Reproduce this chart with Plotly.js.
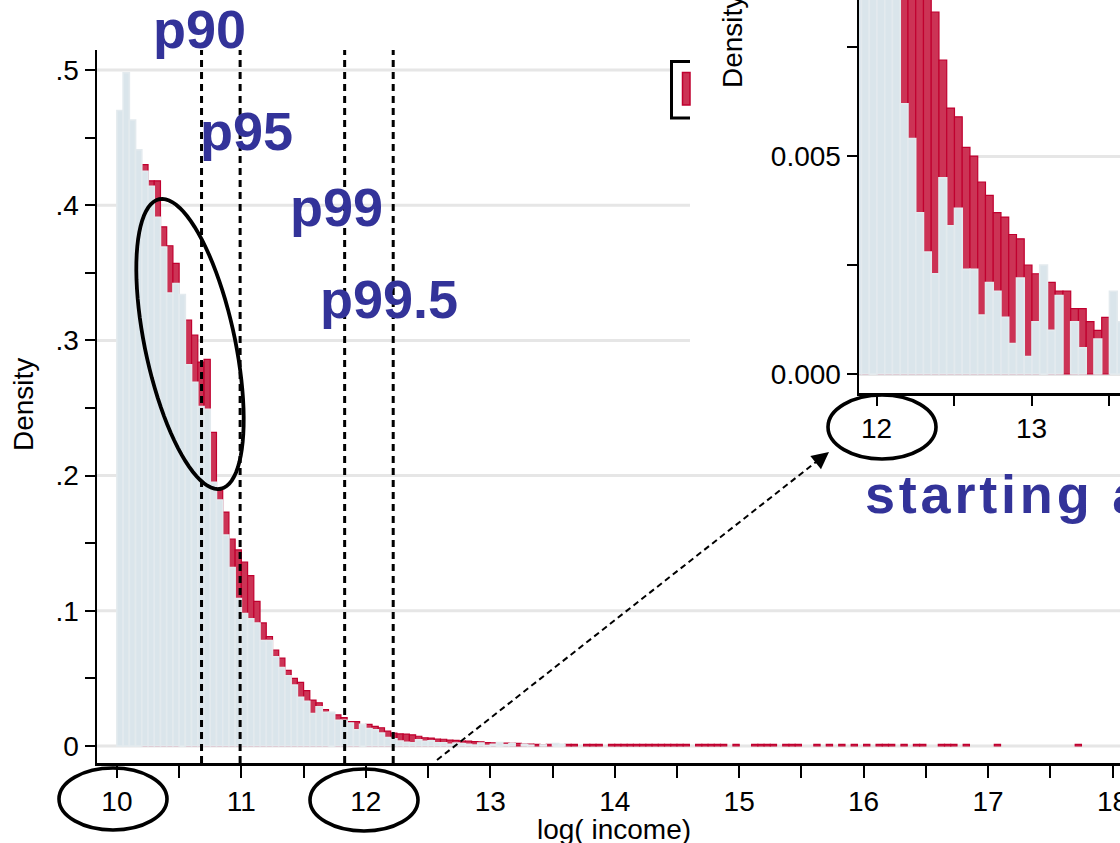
<!DOCTYPE html>
<html><head><meta charset="utf-8">
<script src="https://cdn.plot.ly/plotly-3.0.1.min.js"></script>
<style>html,body{margin:0;padding:0;background:#fff;overflow:hidden}#chart{width:1120px;height:843px}</style>
</head><body><div id="chart"></div>
<script>
// ---- data (density per 0.05-wide bin of log(income), bins start at 10.0) ----
const BIN_START = 10.0;
const BIN_WIDTH = 0.05;
// light blue histogram (bins 0..71)
const blueDensity = [
  0.470,0.498,0.463,0.441,0.425,0.414,0.391,0.369,0.335,0.342,
  0.334,0.282,0.269,0.251,0.249,0.195,0.182,0.156,0.132,0.109,
  0.098,0.094,0.091,0.078,0.078,0.066,0.058,0.052,0.045,0.036,
  0.033,0.024,0.029,0.025,0.025,0.019,0.019,0.017,0.012,0.016,
  0.013,0.012,0.0095,0.0062,0.0054,0.0037,0.0028,0.0023,0.0045,0.0034,
  0.0038,0.0024,0.0024,0.00135,0.0021,0.0019,0.0013,0.0007,0.0022,0.0004,
  0.0012,0.0025,0.0010,0.0018,0,0.0012,0.0006,0,0.0008,0,
  0.0019,0.0012
];
// red histogram (bins 0..71)
const redDensity = [
  0.400,0.450,0.440,0.430,0.430,0.418,0.418,0.384,0.370,0.357,
  0.320,0.315,0.304,0.284,0.286,0.232,0.189,0.173,0.153,0.145,
  0.136,0.126,0.107,0.091,0.081,0.071,0.065,0.056,0.050,0.047,
  0.041,0.034,0.032,0.027,0.025,0.023,0.021,0.018,0.018,0.010,
  0.016,0.0145,0.0135,0.011,0.0095,0.009,0.0088,0.0083,0.0072,0.0061,
  0.0059,0.0052,0.0050,0.0044,0.0041,0.0037,0.0036,0.0032,0.0031,0.0025,
  0.0023,0.0015,0.0021,0.0019,0.0019,0.0015,0.0015,0.0012,0.0010,0.0013,
  0.0012,0
];
// sparse red tail: bin index and density
const tailRedBins = [72,73,75,76,77,79,80,81,82,83,84,85,86,87,88,89,90,91,93,94,95,96,97,99,
  102,103,104,105,107,108,109,112,114,116,118,120,122,123,124,126,128,129,132,133,134,136,141,154];
const tailRedDensity = [0.0012,0.0012,0.0012,0.0012,0.0012,0.0012,0.0012,0.0012,0.0012,0.0012,0.0012,0.0012,
  0.0012,0.0012,0.0012,0.0012,0.0012,0.0012,0.0012,0.0012,0.0012,0.0012,0.0012,0.0012,
  0.0012,0.0012,0.0012,0.0012,0.0012,0.0012,0.0012,0.0012,0.0012,0.0012,0.0012,0.0012,
  0.0012,0.0012,0.0012,0.0012,0.0012,0.0012,0.0012,0.0012,0.0012,0.0012,0.0012,0.0012];
// percentile cut-offs
const pctLabels = ['p90','p95','p99','p99.5'];
const pctValues = [10.68, 10.99, 11.83, 12.22];
const mainXTicks = [10,11,12,13,14,15,16,17,18];
const mainYTicks = [0,0.1,0.2,0.3,0.4,0.5];
const mainYText = ['0','.1','.2','.3','.4','.5'];
const insetXTicks = [12,13];
const insetXText = ['12','13'];
const insetYTicks = [0,0.005];
const insetYText = ['0.000','0.005'];

// ---- helpers ----
const W = 1120, H = 843;
const px = x => x / W;
const py = y => 1 - y / H;
const center = i => BIN_START + BIN_WIDTH * (i + 0.5);

const blueX = [], blueY = [];
blueDensity.forEach((v, i) => { if (v > 0) { blueX.push(center(i)); blueY.push(v); } });
// red drawn only where it rises above the blue bar (the rest is hidden behind it)
const redX = [], redY = [];
redDensity.forEach((v, i) => { if (v > blueDensity[i]) { redX.push(center(i)); redY.push(v); } });
tailRedBins.forEach((b, k) => { redX.push(center(b)); redY.push(tailRedDensity[k]); });

const RED = '#cc3355', RED_EDGE = '#c0002f', BLUE = '#dae5eb', BLUE_EDGE = '#e3eaee';
const FONT = 'Liberation Sans, Arial, sans-serif';

function barTrace(x, y, fill, edge, lw, xa, ya) {
  return {type:'bar', x:x, y:y, width:BIN_WIDTH, xaxis:xa, yaxis:ya, showlegend:false,
    marker:{color:fill, line:{color:edge, width:lw}}, hoverinfo:'skip'};
}
const data = [
  barTrace(redX, redY, RED, RED_EDGE, 1.2, 'x', 'y'),
  barTrace(blueX, blueY, BLUE, BLUE_EDGE, 1.6, 'x', 'y'),
  barTrace(redX, redY, RED, RED_EDGE, 1.2, 'x2', 'y2'),
  barTrace(blueX, blueY, BLUE, BLUE_EDGE, 1.6, 'x2', 'y2')
];

function ellipsePath(cx, cy, a, b, angDeg) {
  const t = angDeg * Math.PI / 180;
  const ux = Math.sin(t), uy = Math.cos(t), vx = Math.cos(t), vy = -Math.sin(t);
  let d = '';
  for (let k = 0; k <= 90; k++) {
    const th = 2 * Math.PI * k / 90;
    const X = cx + a * Math.cos(th) * ux + b * Math.sin(th) * vx;
    const Y = cy + a * Math.cos(th) * uy + b * Math.sin(th) * vy;
    d += (k ? 'L' : 'M') + px(X).toFixed(5) + ',' + py(Y).toFixed(5);
  }
  return d + 'Z';
}

const GRID = '#e6e6e6';
const shapes = [];
// main gridlines
const gridEnds = [W, W, W, 690, 690, 670];
mainYTicks.forEach((v, i) => shapes.push({type:'line', layer:'below', xref:'paper', yref:'y',
  x0:px(97), x1:px(gridEnds[i]), y0:v, y1:v, line:{color:GRID, width:3}}));
// percentile dashed lines
pctValues.forEach(v => shapes.push({type:'line', layer:'above', xref:'x', yref:'y domain',
  x0:v, x1:v, y0:0, y1:1, line:{color:'#000', width:3, dash:'7px,5px'}}));
// ellipses
shapes.push({type:'path', layer:'above', xref:'paper', yref:'paper', line:{color:'#000', width:3.8},
  path: ellipsePath(190, 344, 148, 45, 12)});
[[113,799,54,31],[364,800,54,31],[882,427,54,32]].forEach(e => shapes.push({type:'circle', layer:'above',
  xref:'paper', yref:'paper', x0:px(e[0]-e[2]), x1:px(e[0]+e[2]), y0:py(e[1]+e[3]), y1:py(e[1]-e[3]),
  line:{color:'#000', width:3.6}}));
// dashed arrow line
shapes.push({type:'line', layer:'above', xref:'paper', yref:'paper', x0:px(437), y0:py(760), x1:px(816), y1:py(462),
  line:{color:'#000', width:2, dash:'6px,4px'}});
// truncated legend box
shapes.push({type:'path', layer:'above', xref:'paper', yref:'paper',
  path:'M'+px(690)+','+py(61.5)+'L'+px(671.5)+','+py(61.5)+'L'+px(671.5)+','+py(118)+'L'+px(690)+','+py(118),
  line:{color:'#000', width:3}});
shapes.push({type:'rect', layer:'above', xref:'paper', yref:'paper', x0:px(682.5), x1:px(690), y0:py(105), y1:py(72.5),
  fillcolor:RED, line:{color:RED_EDGE, width:1.5}});

const LABEL_FONT = {family:FONT, size:54, color:'#333399', weight:700};
const pctPos = [[151,29],[198,131],[288,207],[318,299]];
const annotations = pctLabels.map((t, i) => ({text:t, xref:'paper', yref:'paper', x:px(pctPos[i][0]), y:py(pctPos[i][1]),
  xanchor:'left', yanchor:'middle', showarrow:false, font:LABEL_FONT}));
annotations.push({text:'<span style="letter-spacing:3.8px">starting a</span>', xref:'paper', yref:'paper', x:px(863), y:py(494),
  xanchor:'left', yanchor:'middle', showarrow:false, font:LABEL_FONT});
const AX_FONT = {family:FONT, size:28, color:'#000'};
annotations.push({text:'Density', xref:'paper', yref:'paper', x:px(23), y:py(405), textangle:-90,
  xanchor:'center', yanchor:'middle', showarrow:false, font:AX_FONT});
annotations.push({text:'log( income)', xref:'paper', yref:'paper', x:px(614), y:py(829),
  xanchor:'center', yanchor:'middle', showarrow:false, font:AX_FONT});
annotations.push({text:'Density', xref:'paper', yref:'paper', x:px(733), y:py(42), textangle:-90,
  xanchor:'center', yanchor:'middle', showarrow:false, font:AX_FONT});
// inset x tick labels placed on the inset's own x scale
insetXTicks.forEach((v, i) => annotations.push({text:insetXText[i], xref:'x2', yref:'paper', x:v, y:py(428),
  xanchor:'center', yanchor:'middle', showarrow:false, font:AX_FONT}));
// arrow head
annotations.push({text:'', xref:'paper', yref:'paper', x:px(829), y:py(452), ax:-15, ay:12,
  showarrow:true, arrowhead:2, arrowsize:1.9, arrowwidth:1.8, arrowcolor:'#000'});

const tickStyle = {ticks:'outside', tickwidth:2, tickcolor:'#000', showline:true, linecolor:'#000', linewidth:2.5,
  zeroline:false, tickfont:AX_FONT, fixedrange:true, ticklabeloverflow:'allow'};

const layout = {
  width:W, height:H, margin:{l:0, r:0, t:0, b:0},
  paper_bgcolor:'#fff', plot_bgcolor:'rgba(0,0,0,0)',
  barmode:'overlay', bargap:0, showlegend:false,
  xaxis: Object.assign({}, tickStyle, {domain:[px(97), 1], range:[9.84, 18.06], anchor:'y',
    tickmode:'array', tickvals:mainXTicks, ticklen:12, showgrid:false,
    minor:{dtick:0.5, tick0:0, ticks:'outside', ticklen:12, tickwidth:2, tickcolor:'#000', showgrid:false}}),
  yaxis: Object.assign({}, tickStyle, {domain:[py(763), py(50)], range:[-0.01257, 0.5148], anchor:'x',
    tickmode:'array', tickvals:mainYTicks, ticktext:mainYText, ticklen:10, showgrid:false,
    minor:{dtick:0.05, tick0:0, ticks:'outside', ticklen:10, tickwidth:2, tickcolor:'#000', showgrid:false}}),
  xaxis2: Object.assign({}, tickStyle, {domain:[px(859), 1], range:[11.884, 13.568], anchor:'y2',
    tickmode:'array', tickvals:insetXTicks, ticklen:10, showgrid:false, showticklabels:false,
    minor:{dtick:0.5, tick0:0, ticks:'outside', ticklen:10, tickwidth:2, tickcolor:'#000', showgrid:false}}),
  yaxis2: Object.assign({}, tickStyle, {domain:[py(393), 1], range:[-0.000436, 0.00858], anchor:'x2',
    tickmode:'array', tickvals:insetYTicks, ticktext:insetYText, ticklen:10,
    showgrid:true, gridcolor:GRID, gridwidth:3,
    minor:{dtick:0.0025, tick0:0, ticks:'outside', ticklen:10, tickwidth:2, tickcolor:'#000', showgrid:false}}),
  shapes:shapes, annotations:annotations
};
Plotly.newPlot('chart', data, layout, {staticPlot:true, displayModeBar:false});
</script></body></html>
